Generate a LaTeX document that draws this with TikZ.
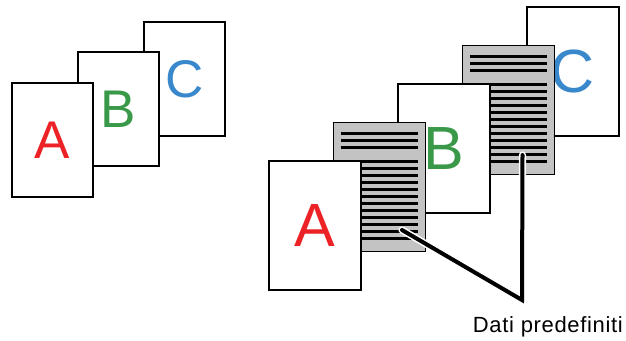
\documentclass[tikz,border=0pt]{standalone}
\usepackage{fontspec}
\setmainfont{Liberation Sans}
\definecolor{lettA}{RGB}{236,34,39}
\definecolor{lettB}{RGB}{57,153,72}
\definecolor{lettC}{RGB}{58,136,204}
\definecolor{pagegray}{RGB}{195,195,195}
\begin{document}
\begin{tikzpicture}[x=1pt,y=-1pt,
  smallpage/.style={draw=black,line width=1.6pt,fill=white,minimum width=81pt,minimum height=114pt,inner sep=0pt,anchor=north west,font=\fontsize{53}{53}\selectfont},
  bigpage/.style={draw=black,line width=1.6pt,fill=white,minimum width=92pt,minimum height=129pt,inner sep=0pt,anchor=north west,font=\fontsize{61}{61}\selectfont},
  graypage/.style={bigpage,fill=pagegray},
  stripe/.style={line width=2.7pt,black},
  halo/.style={line width=7.2pt,white,line cap=round,line join=miter},
  leader/.style={line width=4pt,black,line cap=round,line join=miter}]
\useasboundingbox (0,0) rectangle (626,340);
\fill[white] (0,0) rectangle (626,340);
% left group
\node[smallpage,text=lettC] (lc) at (143,21) {C};
\node[smallpage,text=lettB] (lb) at (77,51) {B};
\node[smallpage,text=lettA] (la) at (11,82) {A};
% right group
\node[bigpage,text=lettC] (rc) at (526,6) {C};
\node[graypage] (g2) at (461.5,44.5) {};
\foreach \k in {0,1,2,4,5,6,7,8,9,10,11,12,13,14,15}
  \draw[stripe] ([shift={(8,12+7*\k)}]g2.north west) -- ([shift={(85,12+7*\k)}]g2.north west);
\node[bigpage,text=lettB] (rb) at (397,83) {B};
\node[graypage] (g1) at (332.5,121.5) {};
\foreach \k in {0,1,2,4,5,6,7,8,9,10,11,12,13,14,15}
  \draw[stripe] ([shift={(8,12+7*\k)}]g1.north west) -- ([shift={(85,12+7*\k)}]g1.north west);
\node[bigpage,text=lettA] (ra) at (268,160) {A};
% leaders
\coordinate (s1) at ([shift={(69.5,108.5)}]g1.north west);
\coordinate (s2) at ([shift={(61,110.5)}]g2.north west);
\coordinate (apex) at (522,300);
\draw[halo] (s1) -- (apex) -- (s2);
\draw[leader] (s1) -- (apex) -- (s2);
\node[anchor=base east,inner sep=0pt,font=\fontsize{22}{22}\selectfont\addfontfeature{LetterSpace=3}] (lbl) at (623,332) {Dati predefiniti};
\end{tikzpicture}
\end{document}
